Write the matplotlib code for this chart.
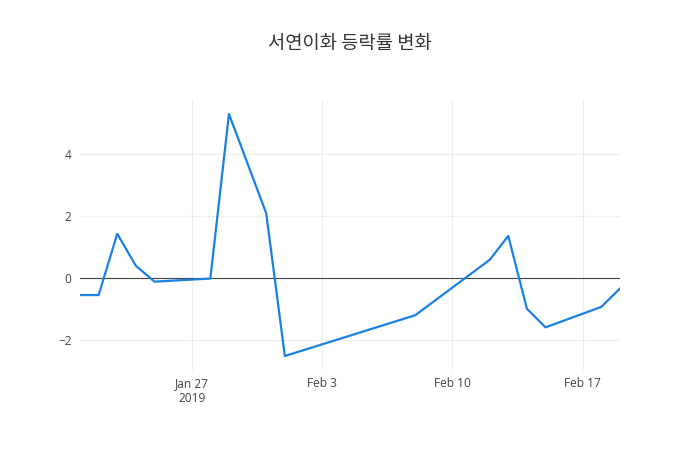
import pandas as pd
import matplotlib.pyplot as plt
import matplotlib.dates as mdates

# data
dates = ['2019-01-21', '2019-01-22', '2019-01-23', '2019-01-24', '2019-01-25',
         '2019-01-28', '2019-01-29', '2019-01-31', '2019-02-01', '2019-02-08',
         '2019-02-12', '2019-02-13', '2019-02-14', '2019-02-15', '2019-02-18',
         '2019-02-19']
change = [-0.54, -0.54, 1.43, 0.40, -0.11,
          -0.01, 5.28, 2.09, -2.50, -1.19,
          0.59, 1.36, -0.98, -1.58, -0.92,
          -0.33]
tick_dates = ['2019-01-27', '2019-02-03', '2019-02-10', '2019-02-17']
tick_labels = ['Jan 27\n2019', 'Feb 3', 'Feb 10', 'Feb 17']
y_ticks = [-2, 0, 2, 4]
title = '서연이화 등락률 변화'

x = pd.to_datetime(dates)

plt.rcParams['font.family'] = ['Open Sans', 'Noto Sans CJK KR', 'DejaVu Sans']

fig = plt.figure(figsize=(7, 4.5), dpi=100)
ax = fig.add_axes([80 / 700, 80 / 450, 540 / 700, 270 / 450])

ax.plot(x, change, color='#1a80e2', linewidth=1.6, zorder=3)
ax.axhline(0, color='#444444', linewidth=0.8, zorder=2)

ax.set_xlim(x[0], x[-1])
ax.set_ylim(-2.95, 5.73)

ax.set_xticks(pd.to_datetime(tick_dates))
ax.set_xticklabels(tick_labels)
ax.set_yticks(y_ticks)
ax.set_yticklabels([str(v).replace('-', '\u2212') for v in y_ticks])

ax.grid(True, color='#eeeeee', linewidth=0.8, zorder=0)
for s in ax.spines.values():
    s.set_visible(False)
ax.tick_params(length=0, labelsize=8.6, labelcolor='#444444')
ax.tick_params(axis='x', pad=5)
ax.tick_params(axis='y', pad=6)

fig.text(350 / 700, 1 - 44 / 450, title, ha='center', va='center',
         fontsize=13.5, color='#333333', family=['Noto Sans CJK KR', 'DejaVu Sans'])

fig.savefig('out.png', dpi=100)
